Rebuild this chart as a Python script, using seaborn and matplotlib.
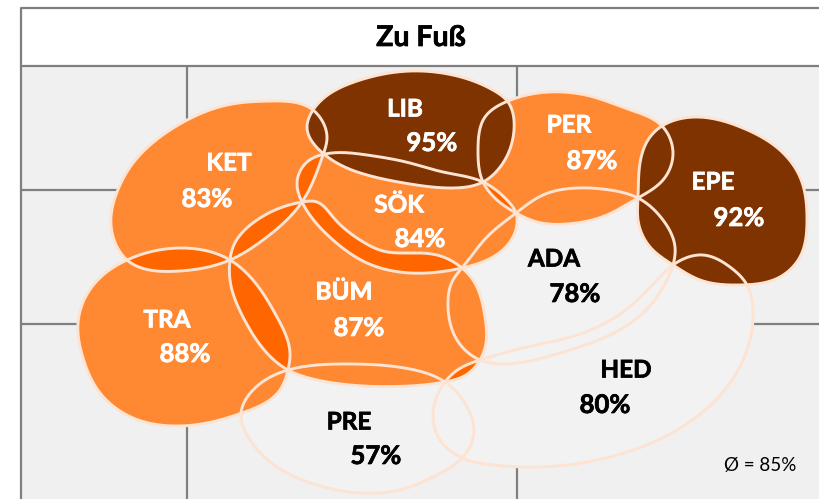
import numpy as np
import pandas as pd
import seaborn as sns
import matplotlib.pyplot as plt
import matplotlib.patheffects as pe
from matplotlib.patches import Polygon, Rectangle

regions = ["KET", "LIB", "SÖK", "PER", "EPE", "ADA", "BÜM", "TRA", "HED", "PRE"]
values = [83, 95, 84, 87, 92, 78, 87, 88, 80, 57]
mean_value = 85
title = "Zu Fuß"

# outlines, in picture pixels
outlines = {
    "KET": [(313, 110), (270, 101), (227, 105), (187, 120), (167, 132), (133, 163), (117, 192), (111, 225), (127, 260),
            (180, 271), (230, 260), (267, 237), (302, 202), (323, 155), (327, 138)],
    "LIB": [(313, 110), (360, 80), (410, 71), (453, 75), (493, 90), (508, 102), (514, 130), (503, 163), (483, 182),
            (453, 188), (410, 184), (367, 175), (325, 155), (307, 127)],
    "SÖK": [(325, 154), (367, 155), (410, 163), (443, 172), (483, 182), (507, 200), (516, 213), (513, 237),
            (493, 257), (462, 268), (410, 273), (367, 263), (333, 240), (302, 202), (297, 183), (307, 162)],
    "PER": [(508, 101), (563, 92), (590, 96), (628, 109), (662, 126), (673, 153), (663, 180), (638, 198), (607, 215),
            (567, 224), (537, 222), (516, 213), (497, 200), (483, 182), (478, 150), (485, 117)],
    "EPE": [(662, 126), (697, 117), (743, 128), (780, 150), (800, 177), (807, 220), (800, 257), (780, 277),
            (740, 285), (700, 280), (673, 265), (650, 247), (638, 220), (638, 198), (640, 163), (650, 137)],
    "ADA": [(516, 213), (543, 195), (577, 188), (610, 190), (638, 198), (663, 220), (675, 247), (673, 265),
            (667, 280), (643, 313), (610, 335), (560, 353), (503, 364), (480, 360), (457, 340), (448, 307),
            (453, 280), (462, 268), (487, 237)],
    "BÜM": [(302, 202), (317, 202), (333, 217), (360, 240), (383, 251), (410, 253), (437, 255), (462, 268),
            (473, 280), (485, 317), (486, 343), (480, 360), (466, 375), (445, 382), (410, 386), (350, 385),
            (317, 380), (288, 370), (243, 317), (230, 280), (230, 260), (233, 247), (257, 220)],
    "TRA": [(127, 260), (180, 248), (230, 260), (253, 280), (277, 317), (290, 353), (288, 370), (280, 390),
            (242, 413), (207, 423), (173, 426), (133, 418), (100, 393), (83, 358), (78, 323), (86, 296), (103, 275)],
    "HED": [(673, 265), (703, 255), (730, 267), (747, 285), (753, 310), (747, 350), (727, 387), (677, 430),
            (610, 457), (537, 467), (493, 465), (460, 457), (440, 440), (433, 415), (445, 382), (459, 369),
            (480, 360), (523, 348), (577, 335), (623, 312), (657, 280)],
    "PRE": [(288, 370), (317, 365), (350, 364), (410, 369), (445, 382), (467, 407), (474, 430), (463, 457),
            (433, 477), (410, 487), (360, 493), (317, 485), (277, 467), (250, 440), (241, 413), (253, 390)],
}
overlaps = [("KET", "TRA"), ("KET", "BÜM"), ("KET", "SÖK"), ("SÖK", "BÜM"), ("TRA", "BÜM"), ("PER", "SÖK"),
            ("BÜM", "HED")]

name_pos = {"KET": (229, 163), "LIB": (405, 109), "SÖK": (399, 205), "PER": (569, 125), "EPE": (713, 182),
            "ADA": (554, 259), "BÜM": (344, 292), "TRA": (167, 320), "HED": (626, 370), "PRE": (349, 422)}
value_pos = {"KET": (207, 199), "LIB": (432, 143), "SÖK": (420, 239), "PER": (592, 161), "EPE": (739, 218),
             "ADA": (575, 294), "BÜM": (359, 328), "TRA": (185, 354), "HED": (605, 405), "PRE": (376, 456)}


def smooth(points):
    # periodic cubic spline through the points, chord length as parameter
    p = np.array(points, dtype=float)
    n = len(p)
    h = np.linalg.norm(np.roll(p, -1, axis=0) - p, axis=1)
    A = np.zeros((n, n))
    b = np.zeros((n, 2))
    for i in range(n):
        A[i, i - 1] += h[i - 1]
        A[i, i] += 2 * (h[i - 1] + h[i])
        A[i, (i + 1) % n] += h[i]
        b[i] = 6 * ((p[(i + 1) % n] - p[i]) / h[i] - (p[i] - p[i - 1]) / h[i - 1])
    m = np.linalg.solve(A, b)
    out = []
    for i in range(n):
        j = (i + 1) % n
        for t in np.linspace(0, 1, 16, endpoint=False):
            s = 1 - t
            out.append(s * p[i] + t * p[j] + h[i] ** 2 / 6 * ((s ** 3 - s) * m[i] + (t ** 3 - t) * m[j]))
    out.append(out[0])
    return np.array(out)


def shade(value):
    if value >= 90:
        return "#7f3300"
    if value >= 83:
        return "#ff8833"
    return "#f2f2f2"


sns.set_theme(style="white")
plt.rcParams["font.family"] = ["Lato", "DejaVu Sans"]

shapes = {name: smooth(pts) for name, pts in outlines.items()}
score = dict(zip(regions, values))

fig = plt.figure(figsize=(8.19, 4.99), dpi=100)
ax = fig.add_axes([0, 0, 1, 1])
ax.axis("off")

grid = "#7f7f7f"
ax.add_patch(Rectangle((21, 66), 798, 433, color="#f0f0f0", zorder=0))
ax.plot([819, 21, 21], [8, 8, 499], color=grid, lw=1.6, zorder=1)
for y in [66, 190, 324]:
    ax.plot([21, 819], [y, y], color=grid, lw=1.6, zorder=1)
for x in [187, 517]:
    ax.plot([x, x], [66, 499], color=grid, lw=1.6, zorder=1)

# unfilled regions first, then orange, then the dark ones on top
order = sorted(regions, key=lambda n: (shade(score[n]) == "#7f3300", shade(score[n]) == "#ff8833"))
for name in order:
    if shade(score[name]) != "#7f3300":
        ax.fill(shapes[name][:, 0], shapes[name][:, 1], color=shade(score[name]), lw=0, zorder=2)
for a, b in overlaps:
    lens = ax.fill(shapes[a][:, 0], shapes[a][:, 1], color="#ff6600", lw=0, zorder=3)[0]
    lens.set_clip_path(Polygon(shapes[b], transform=ax.transData))
for name in order:
    if shade(score[name]) == "#7f3300":
        ax.fill(shapes[name][:, 0], shapes[name][:, 1], color=shade(score[name]), lw=0, zorder=4)

df = pd.concat([pd.DataFrame({"x": s[:, 0], "y": s[:, 1], "region": n}) for n, s in shapes.items()])
sns.lineplot(data=df, x="x", y="y", units="region", estimator=None, sort=False, color="#fde3d2", lw=2.1,
             zorder=5, ax=ax, legend=False)
ax.set_xlim(0, 819)
ax.set_ylim(499, 0)


def label(x, y, text, col, size):
    t = ax.text(x, y, text, color=col, fontsize=size, fontweight="bold", ha="center", va="center", zorder=6)
    t.set_path_effects([pe.withStroke(linewidth=0.5, foreground=col)])


for name, value in zip(regions, values):
    col = "white" if value >= 83 else "black"
    label(*name_pos[name], name, col, 17.5)
    label(*value_pos[name], f"{value}%", col, 18.5)
label(421, 38, title, "black", 20.5)
ax.text(760, 465, f"Ø = {mean_value}%", color="black", fontsize=13.5, ha="center", va="center", zorder=6)

fig.savefig("out.png", dpi=100)
plt.close(fig)
